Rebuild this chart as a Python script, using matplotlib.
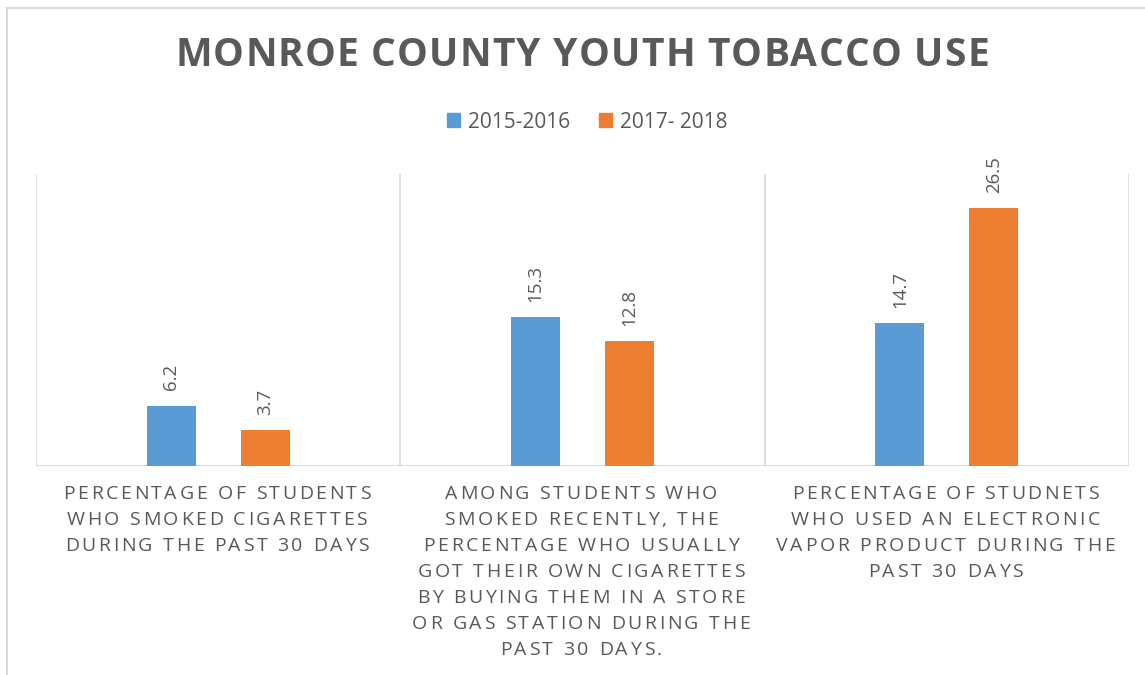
import numpy as np
import matplotlib
matplotlib.use("Agg")
import matplotlib.pyplot as plt
from matplotlib.font_manager import FontProperties
from matplotlib.lines import Line2D
from matplotlib.patches import Patch

# Datos del gráfico
titulo = "MONROE COUNTY YOUTH TOBACCO USE"
series = ["2015-2016", "2017- 2018"]
categorias = [
    ["PERCENTAGE OF STUDENTS", "WHO SMOKED CIGARETTES", "DURING THE PAST 30 DAYS"],
    ["AMONG STUDENTS WHO", "SMOKED RECENTLY, THE", "PERCENTAGE WHO USUALLY",
     "GOT THEIR OWN CIGARETTES", "BY BUYING THEM IN A STORE",
     "OR GAS STATION DURING THE", "PAST 30 DAYS."],
    ["PERCENTAGE OF STUDNETS", "WHO USED AN ELECTRONIC",
     "VAPOR PRODUCT DURING THE", "PAST 30 DAYS"],
]
valores_2015 = [6.2, 15.3, 14.7]
valores_2017 = [3.7, 12.8, 26.5]

AZUL = "#5b9bd5"
NARANJA = "#ed7d31"
GRIS = "#595959"
GRIS_LINEA = "#d9d9d9"
W, H = 1145, 675


def ancho_texto(renderer, texto, prop):
    # ancho de avance de un texto, medido entre dos "H" para contar espacios
    w_con = renderer.get_text_width_height_descent("H" + texto + "H", prop, ismath=False)[0]
    w_sin = renderer.get_text_width_height_descent("HH", prop, ismath=False)[0]
    return w_con - w_sin


def texto_espaciado(fig, renderer, x_centro, y_px, linea, prop, espacio, color):
    '''
        Dibuja una línea de texto con espaciado entre letras, centrada en x_centro (px).
    '''
    anchos = [ancho_texto(renderer, c, prop) for c in linea]
    total = sum(anchos) + espacio * (len(linea) - 1)
    x = x_centro - total / 2
    for c, w in zip(linea, anchos):
        if c != " ":
            fig.text(x / W, 1 - y_px / H, c, fontproperties=prop, color=color,
                     ha="left", va="center")
        x += w + espacio


fig = plt.figure(figsize=(W / 100, H / 100), dpi=100)
ax = fig.add_axes([36 / W, 209 / H, 1093 / W, 292 / H])

x = np.arange(len(categorias))
ancho = 0.135
desp = 0.129
b1 = ax.bar(x - desp, valores_2015, ancho, color=AZUL, zorder=3)
b2 = ax.bar(x + desp, valores_2017, ancho, color=NARANJA, zorder=3)

ax.set_xlim(-0.5, len(categorias) - 0.5)
ax.set_ylim(0, 30)
ax.vlines(np.arange(len(categorias) + 1) - 0.5, 0, 30, color=GRIS_LINEA, lw=1.2, zorder=1)
ax.axhline(0, color=GRIS_LINEA, lw=1.5, zorder=2)
for s in ax.spines.values():
    s.set_visible(False)
ax.set_xticks([])
ax.set_yticks([])

# etiquetas de valores
for barras, vals in ((b1, valores_2015), (b2, valores_2017)):
    for b, v in zip(barras, vals):
        ax.annotate(f"{v}", (b.get_x() + b.get_width() / 2, v), xytext=(0, 11),
                    textcoords="offset points", rotation=90, ha="center", va="bottom",
                    fontsize=13.5, color=GRIS, family="Open Sans")

# leyenda
handles = [Patch(color=AZUL), Patch(color=NARANJA)]
leg = fig.legend(handles, series, loc="center", bbox_to_anchor=(587 / W, 1 - 122 / H),
                 ncol=2, frameon=False, prop=FontProperties(family="Open Sans", size=15),
                 handlelength=0.65, handleheight=0.65, handletextpad=0.35, columnspacing=1.4)
for t in leg.get_texts():
    t.set_color(GRIS)

# marco exterior (solo arriba e izquierda visibles)
fig.add_artist(Line2D([7 / W, 1], [1 - 8 / H, 1 - 8 / H], color=GRIS_LINEA, lw=1.5))
fig.add_artist(Line2D([7 / W, 7 / W], [0, 1 - 8 / H], color=GRIS_LINEA, lw=1.5))

fig.canvas.draw()
renderer = fig.canvas.get_renderer()

prop_titulo = FontProperties(family="Open Sans", weight="bold", size=28)
texto_espaciado(fig, renderer, 582, 55, titulo, prop_titulo, 1.2, GRIS)

prop_cat = FontProperties(family="Open Sans", size=14)
for i, lineas in enumerate(categorias):
    xc = ax.transData.transform((x[i], 0))[0]
    for j, linea in enumerate(lineas):
        texto_espaciado(fig, renderer, xc - 1.5, 494 + 26 * j, linea, prop_cat, 2.6, GRIS)

fig.savefig("out.png", dpi=100)
